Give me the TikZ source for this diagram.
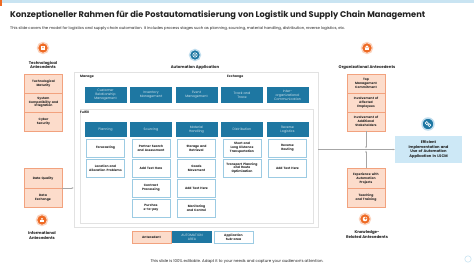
\documentclass[tikz,border=0pt]{standalone}
\usepackage{fontspec}
\setmainfont{Poppins}
\usetikzlibrary{arrows.meta}
\definecolor{peach}{HTML}{FCDCCB}
\definecolor{peachborder}{HTML}{F2A27E}
\definecolor{appblue}{HTML}{1E77A2}
\definecolor{lightblue}{HTML}{CDE8F6}
\definecolor{subborder}{HTML}{9CCBE3}
\definecolor{iconorange}{HTML}{EE6A24}
\definecolor{iconhalo}{HTML}{FBD3BE}
\definecolor{bluehalo}{HTML}{BFDDEE}
\definecolor{frameg}{HTML}{E2E2E2}
\definecolor{topbar}{HTML}{C9E4F2}
\definecolor{darktext}{HTML}{222222}
\tikzset{
  antebox/.style={draw=peachborder, fill=peach, line width=0.6pt, minimum width=38, minimum height=19, inner sep=0, text width=36, align=center, text=darktext, font=\fontsize{3.1}{3.8}\selectfont\bfseries},
  bluebox/.style={fill=appblue, text=white!80!appblue, minimum width=42, minimum height=16, inner sep=0, text width=40, align=center, font=\fontsize{3.3}{4}\selectfont},
  subbox/.style={draw=subborder, fill=white, line width=0.6pt, minimum width=38, minimum height=18, inner sep=0, text width=36, align=center, text=darktext, font=\fontsize{3.1}{3.8}\selectfont\bfseries},
  grouplabel/.style={align=center, text=darktext, inner sep=0, font=\fontsize{3.9}{4.6}\selectfont\bfseries},
  seclabel/.style={anchor=west, inner sep=0, text=darktext, font=\fontsize{3.2}{3.8}\selectfont\bfseries},
  oicon/.style={circle, fill=iconorange, draw=iconhalo, line width=1.4pt, minimum size=11, inner sep=0},
  bicon/.style={circle, fill=appblue, draw=bluehalo, line width=1.4pt, minimum size=11, inner sep=0},
  frm/.style={draw=frameg, line width=0.6pt, inner sep=0},
  conn/.style={draw=gray!70, line width=0.4pt, -{Stealth[length=2pt,width=1.6pt]}}
}
\begin{document}
\begin{tikzpicture}[x=1pt,y=-1pt]
\useasboundingbox (0,0) rectangle (474,266);
\fill[white] (0,0) rectangle (474,266);
\fill[topbar] (0,0) rectangle (474,2.5);
\fill[iconorange] (0,0) rectangle (1.5,6);

% title & subtitle
\node[anchor=west, inner sep=0, text=darktext] (title) at (10,15) {\resizebox{415pt}{!}{\bfseries Konzeptioneller Rahmen für die Postautomatisierung von Logistik und Supply Chain Management}};
\node[anchor=west, inner sep=0, text=darktext] (subtitle) at (10,29) {\resizebox{335pt}{!}{\fontsize{5}{6}\selectfont This slide covers the model for logistics and supply chain automation. It includes process stages such as planning, sourcing, material handling, distribution, reverse logistics, etc.}};

% frames
\node[frm, minimum width=244, minimum height=155] (mainframe) at (196,149.5) {};
\node[frm, minimum width=233, minimum height=114] (fulfillframe) at (196.5,166) {};

% icons
\node[oicon] (ictech) at (43,48) {};
\fill[white] ([xshift=-1.6pt,yshift=2.2pt]ictech.center) rectangle ([xshift=1.6pt,yshift=-2.2pt]ictech.center);
\fill[iconorange] ([xshift=0pt,yshift=0.6pt]ictech.center) circle (0.7pt);
\node[bicon] (icapp) at (195,55) {};
\draw[white, line width=0.6pt] (icapp.center) circle (2.2pt);
\fill[white] (icapp.center) circle (0.9pt);
\node[oicon] (icorg) at (367,48) {};
\fill[white] ([yshift=2.6pt]icorg.center) -- ([xshift=-2.4pt,yshift=0.4pt]icorg.center) -- ([xshift=2.4pt,yshift=0.4pt]icorg.center) -- cycle;
\fill[white] ([xshift=-1.8pt,yshift=0.4pt]icorg.center) rectangle ([xshift=1.8pt,yshift=-2.4pt]icorg.center);
\node[oicon] (icinfo) at (42,220) {};
\fill[white] ([yshift=1.2pt]icinfo.center) circle (1pt);
\fill[white] ([xshift=-2pt,yshift=-2.4pt]icinfo.center) rectangle ([xshift=2pt,yshift=-0.4pt]icinfo.center);
\node[oicon] (icknow) at (365,219) {};
\fill[white] (icknow.center) circle (2.3pt);
\fill[iconorange] ([xshift=0.6pt,yshift=0.6pt]icknow.center) circle (1.2pt);
\node[bicon, minimum size=12] (icres) at (428,124) {};
\draw[white, line width=0.6pt] ([xshift=-1.2pt,yshift=0.8pt]icres.center) circle (1.6pt);
\draw[white, line width=0.6pt] ([xshift=1.4pt,yshift=-1.2pt]icres.center) circle (1.4pt);

% group labels
\node[grouplabel] (ltech) at (43,65) {Technological\\Antecedents};
\node[grouplabel] (lapp) at (195,67) {Automation Application};
\node[grouplabel] (lorg) at (367,67) {Organizational Antecedents};
\node[grouplabel] (linfo) at (42,235.5) {Informational\\Antecedents};
\node[grouplabel] (lknow) at (367,234.5) {Knowledge-\\Related Antecedents};

% left antecedents
\node[antebox] (t1) at (43.5,83.5) {Technological\\Maturity};
\node[antebox] (t2) at (43.5,102.5) {System\\Compatibility and\\Integration};
\node[antebox] (t3) at (43.5,121.5) {Cyber\\Security};
\node[antebox, minimum height=19.5] (d1) at (43,178.5) {Data Quality};
\node[antebox, minimum height=19.5] (d2) at (43,198) {Data\\Exchange};

% right antecedents
\node[antebox] (o1) at (366,83.5) {Top\\Management\\Commitment};
\node[antebox] (o2) at (366,102.5) {Involvement of\\Affected\\Employees};
\node[antebox] (o3) at (366,121.5) {Involvement of\\Additional\\Stakeholders};
\node[antebox, minimum height=19.5] (k1) at (366,178.5) {Experience with\\Automation\\Projects};
\node[antebox, minimum height=19.5] (k2) at (366,198) {Teaching\\and Training};

% result
\node[fill=lightblue, minimum width=67, minimum height=27, inner sep=0, text width=64, align=center, text=darktext, font=\fontsize{3.7}{4.6}\selectfont\bfseries] (res) at (428.5,149.5) {Efficient\\Implementation and\\Use of Automation\\Application in LSCM};

% section labels
\node[seclabel] (lmanage) at (80,77) {Manage};
\node[seclabel] (lexch) at (227,77) {Exchange};
\node[seclabel] (lfulfill) at (80,112) {Fulfill};

% manage row
\node[bluebox] (m1) at (105.5,95) {Customer\\Relationship\\Management};
\node[bluebox] (m2) at (151,95) {Inventory\\Management};
\node[bluebox] (m3) at (196.5,95) {Event\\Management};
\node[bluebox] (m4) at (242,95) {Track and\\Trace};
\node[bluebox] (m5) at (287.5,95) {Inter-\\organizational\\Communication};

% fulfill headers
\node[bluebox, minimum height=15] (f1) at (105.5,129.5) {Planning};
\node[bluebox, minimum height=15] (f2) at (151,129.5) {Sourcing};
\node[bluebox, minimum height=15] (f3) at (196.5,129.5) {Material\\Handling};
\node[bluebox, minimum height=15] (f4) at (242,129.5) {Distribution};
\node[bluebox, minimum height=15] (f5) at (287.5,129.5) {Reverse\\Logistics};

% sub boxes
\node[subbox] (p1) at (105.5,148) {Forecasting};
\node[subbox] (p2) at (105.5,168) {Location and\\Allocation Problems};
\node[subbox] (s1) at (151,148) {Partner Search\\and Assessment};
\node[subbox] (s2) at (151,168) {Add Text Here};
\node[subbox] (s3) at (151,188) {Contract\\Processing};
\node[subbox] (s4) at (151,208) {Purchas\\e-to-pay};
\node[subbox] (h1) at (196.5,148) {Storage and\\Retrieval};
\node[subbox] (h2) at (196.5,168) {Goods\\Movement};
\node[subbox] (h3) at (196.5,188) {Add Text Here};
\node[subbox] (h4) at (196.5,208) {Monitoring\\and Control};
\node[subbox] (di1) at (242,148) {Short and\\Long Distance\\Transportation};
\node[subbox] (di2) at (242,168) {Transport Planning\\and Route\\Optimization};
\node[subbox] (r1) at (287.5,148) {Reverse\\Routing};
\node[subbox] (r2) at (287.5,168) {Add Text Here};

% legend
\node[antebox, minimum width=39, minimum height=12] (lg1) at (151.5,237) {Antecedent};
\node[bluebox, minimum width=38, minimum height=12] (lg2) at (192,237) {AUTOMATION\\AREA};
\node[subbox, minimum width=39, minimum height=12] (lg3) at (233.5,237) {Application\\Sub-area};

% connectors
\draw[conn] (d2.north east) -- (mainframe.west |- d2.north east);
\coordinate (jn) at (o3.south |- res.west);
\draw[conn] (mainframe.east |- res.west) -- (res.west);
\draw[conn] (o3.south) -- ([yshift=1.2pt]jn);
\draw[conn] (k1.north) -- ([yshift=-1.2pt]jn);

% footer
\node[inner sep=0, text=darktext] (footer) at (237,262) {\resizebox{173pt}{!}{\fontsize{5}{6}\selectfont This slide is 100\% editable. Adapt it to your needs and capture your audience's attention.}};
\draw[topbar, line width=0.6pt] (468,259) circle (3.2pt);
\end{tikzpicture}
\end{document}
